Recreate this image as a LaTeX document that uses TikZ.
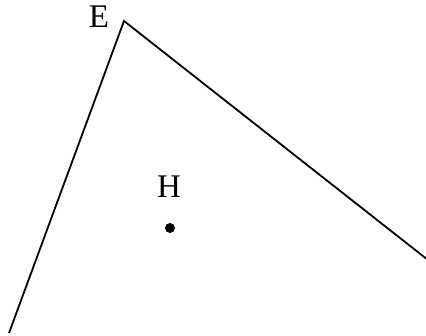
\documentclass[tikz,border=0pt]{standalone}
\usepackage{fontspec}
\setmainfont{Liberation Serif}
\usepackage{tikz}
\usetikzlibrary{calc}

\begin{document}
\begin{tikzpicture}[
    x=1pt, y=-1pt,
    side/.style={line width=1.8pt, line join=miter},
    lbl/.style={inner sep=0pt, font=\fontsize{33}{36}\selectfont},
    pt/.style={circle, fill=black, inner sep=0pt, minimum size=10pt}
]
\useasboundingbox (0,0) rectangle (426,336);
\coordinate (E) at (124,21);
\coordinate (A) at (9,333);
\coordinate (B) at (428,260);
\node[pt] (H) at (170,228) {};
\node[lbl] (Elbl) at (99,17) {E};
\node[lbl] (Hlbl) at (169,187) {H};
\draw[side] (A) -- (E) -- (B);
\end{tikzpicture}
\end{document}
